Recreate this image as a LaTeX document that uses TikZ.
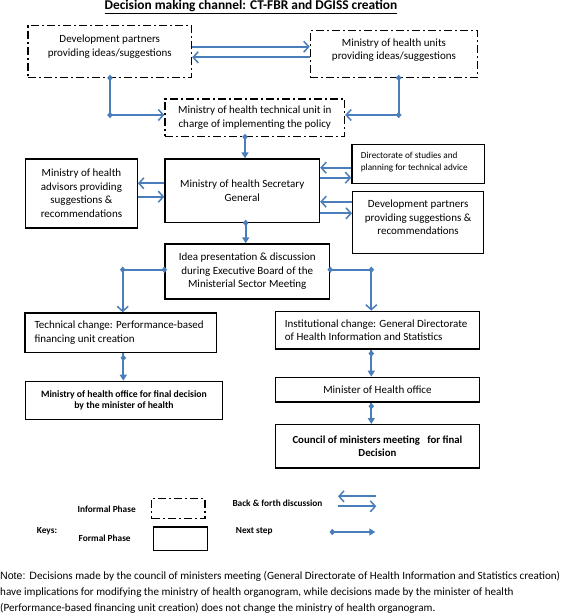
\documentclass[tikz,border=0pt]{standalone}
\usepackage{fontspec}
\setmainfont{Carlito}
\newfontfamily\arialfont{Liberation Sans}
\usetikzlibrary{arrows.meta}
\definecolor{lineblue}{HTML}{4A7EBB}
\begin{document}
\begin{tikzpicture}[x=1pt,y=-1pt,
  box/.style={draw=black, line width=1.2pt, inner sep=0pt, anchor=north west, align=center, font=\fontsize{11}{13.5}\selectfont},
  informal/.style={box, dash pattern=on 8pt off 3pt on 2pt off 3pt},
  btext/.style={inner sep=0pt, align=center, font=\fontsize{11}{13.5}\selectfont},
  ltext/.style={inner sep=0pt, align=left, anchor=west, font=\fontsize{11}{13.5}\selectfont},
  keytext/.style={inner sep=0pt, font=\fontsize{9.3}{11}\selectfont\bfseries},
  notetext/.style={inner sep=0pt, anchor=base west, font=\fontsize{11.1}{12}\selectfont},
  conn/.style={draw=lineblue, line width=1.7pt},
  openarr/.style={conn, -{Straight Barb[length=5pt,width=11pt,line width=1.5pt]}},
  fillarr/.style={conn, -{Triangle[length=6pt,width=7pt]}},
  dm/.pic={\fill[lineblue] (0,-3.2) -- (2.8,0) -- (0,3.2) -- (-2.8,0) -- cycle;}
]
\useasboundingbox (0,0) rectangle (567,613);

% title
\node[inner sep=0pt, anchor=base] (title) at (251,9.3)
  {\fontsize{13.4}{15}\selectfont\bfseries\underline{Decision making channel: CT-FBR and DGISS creation}};

% boxes
\node[informal, minimum width=163.7pt, minimum height=51.7pt] (b1) at (27.3,25) {};
\node[btext] (t1) at ([yshift=5pt]b1.center) {Development partners\\providing ideas/suggestions};
\node[informal, minimum width=167.3pt, minimum height=46.7pt] (b2) at (309.7,30) {};
\node[btext] (t2) at ([yshift=4pt]b2.center) {Ministry of health units\\providing ideas/suggestions};
\node[informal, minimum width=179.7pt, minimum height=37.4pt] (b3) at (164.3,98.3)
  {Ministry of health technical unit in\\charge of implementing the policy};
\node[box, minimum width=154.7pt, minimum height=63.4pt] (b4) at (164.3,158.3)
  {Ministry of health Secretary\\General};
\node[box, minimum width=111.7pt, minimum height=69pt] (b5) at (25,158.3)
  {Ministry of health\\advisors providing\\suggestions \&\\recommendations};
\node[box, minimum width=132.4pt, minimum height=38.7pt] (b6) at (351.3,144) {};
\node[inner sep=0pt, align=left, anchor=west, font=\fontsize{9.2}{12.7}\selectfont] (t6)
  at ([xshift=9.4pt,yshift=2pt]b6.west) {Directorate of studies and\\planning for technical advice};
\node[box, minimum width=131pt, minimum height=62pt] (b7) at (352,191) {};
\node[btext] (t7) at ([yshift=5pt]b7.center) {Development partners\\providing suggestions \&\\recommendations};
\node[box, minimum width=164.7pt, minimum height=55pt] (b8) at (164.3,243.3)
  {Idea presentation \& discussion\\during Executive Board of the\\Ministerial Sector Meeting};
\node[box, minimum width=191.4pt, minimum height=39.4pt] (b9) at (24.3,312.3) {};
\node[ltext] (t9) at ([xshift=10pt]b9.west) {Technical change: Performance-based\\financing unit creation};
\node[box, minimum width=203.7pt, minimum height=37.6pt] (b10) at (275,310.7) {};
\node[ltext] (t10) at ([xshift=9.7pt]b10.west) {Institutional change: General Directorate\\of Health Information and Statistics};
\node[box, minimum width=196.7pt, minimum height=38pt, font=\fontsize{9.7}{11.7}\selectfont\bfseries] (b11) at (25,380.7)
  {Ministry of health office for final decision\\by the minister of health};
\node[box, minimum width=203.7pt, minimum height=24.6pt] (b12) at (275,376.7)
  {Minister of Health office};
\node[box, minimum width=203.7pt, minimum height=43.3pt, font=\fontsize{10.8}{13.3}\selectfont\bfseries] (b13) at (275,424)
  {Council of ministers meeting\ \ \ for final\\Decision};

% helper coordinates
\coordinate (ya) at (0,46.7);
\coordinate (yb) at (0,57.3);
\coordinate (yc) at (0,115);
\coordinate (yd) at (0,183.3);
\coordinate (ye) at (0,196.7);
\coordinate (yf) at (0,167.7);
\coordinate (yg) at (0,177.7);
\coordinate (yh) at (0,201.7);
\coordinate (yi) at (0,213.3);
\coordinate (yj) at (0,269.7);
\coordinate (xa) at (110,0);
\coordinate (xb) at (398.7,0);
\coordinate (xc) at (245,0);
\coordinate (xd) at (245.7,0);
\coordinate (xe) at (122.7,0);
\coordinate (xf) at (123.3,0);
\coordinate (xg) at (371.3,0);

% connectors
\draw[openarr] (b1.east |- ya) -- (b2.west |- ya);
\draw[openarr] (b2.west |- yb) -- (b1.east |- yb);
\draw[openarr] (b1.south -| xa) -- (xa |- yc) -- (b3.west |- yc);
\pic at (b1.south -| xa) {dm};
\pic at (xa |- yc) {dm};
\draw[openarr] (b2.south -| xb) -- (xb |- yc) -- (b3.east |- yc);
\pic at (b2.south -| xb) {dm};
\pic at (xb |- yc) {dm};
\draw[fillarr] (b3.south -| xc) -- (b4.north -| xc);
\pic at (b3.south -| xc) {dm};
\draw[openarr] (b4.west |- yd) -- (b5.east |- yd);
\draw[openarr] (b5.east |- ye) -- (b4.west |- ye);
\draw[openarr] (b6.west |- yf) -- (b4.east |- yf);
\draw[openarr] (b4.east |- yg) -- (b6.west |- yg);
\draw[openarr] (b7.west |- yh) -- (b4.east |- yh);
\draw[openarr] (b4.east |- yi) -- (b7.west |- yi);
\draw[fillarr] (b4.south -| xd) -- (b8.north -| xd);
\pic at (b4.south -| xd) {dm};
\draw[openarr] (b8.west |- yj) -- (xe |- yj) -- (b9.north -| xe);
\pic at (b8.west |- yj) {dm};
\pic at (xe |- yj) {dm};
\draw[openarr] (b8.east |- yj) -- (xg |- yj) -- (b10.north -| xg);
\pic at (b8.east |- yj) {dm};
\pic at (xg |- yj) {dm};
\draw[fillarr] (b9.south -| xf) -- (b11.north -| xf);
\pic[yshift=-5pt] at (b9.south -| xf) {dm};
\draw[fillarr] (b10.south -| xg) -- (b12.north -| xg);
\pic[yshift=-4pt] at (b10.south -| xg) {dm};
\draw[fillarr] (b12.south -| xg) -- (b13.north -| xg);
\pic[yshift=-3.7pt] at (b12.south -| xg) {dm};

% keys
\node[keytext] (kinf) at (106.7,509) {Informal Phase};
\node[keytext] (keys) at (47,531.3) {Keys:};
\node[keytext] (kfor) at (104.7,538) {Formal Phase};
\node[informal, minimum width=53.3pt, minimum height=20pt] (kbox1) at (151,498) {};
\node[box, minimum width=54pt, minimum height=23.4pt] (kbox2) at (152.7,526.3) {};
\node[keytext, anchor=west] (kbf) at (232.3,503.7) {Back \& forth discussion};
\node[keytext, anchor=west] (kns) at (235.7,531.3) {Next step};
\coordinate (la1) at (376.3,496.3);
\coordinate (la2) at (338,496.3);
\coordinate (lb1) at (338,506.3);
\coordinate (lb2) at (376.3,506.3);
\coordinate (ln1) at (332.3,532);
\coordinate (ln2) at (375.3,532);
\draw[openarr] (la1) -- (la2);
\draw[openarr] (lb1) -- (lb2);
\draw[fillarr] (ln1) -- (ln2);
\pic at (ln1) {dm};

% note
\node[notetext] (n1) at (0,579.5) {{\arialfont\fontsize{10.6}{12}\selectfont Note: D}ecisions made by the council of ministers meeting (General Directorate of Health Information and Statistics creation)};
\node[notetext] (n2) at (0,595) {have implications for modifying the ministry of health organogram, while decisions made by the minister of health};
\node[notetext] (n3) at (0,611) {(Performance-based financing unit creation) does not change the ministry of health organogram.};
\end{tikzpicture}
\end{document}
